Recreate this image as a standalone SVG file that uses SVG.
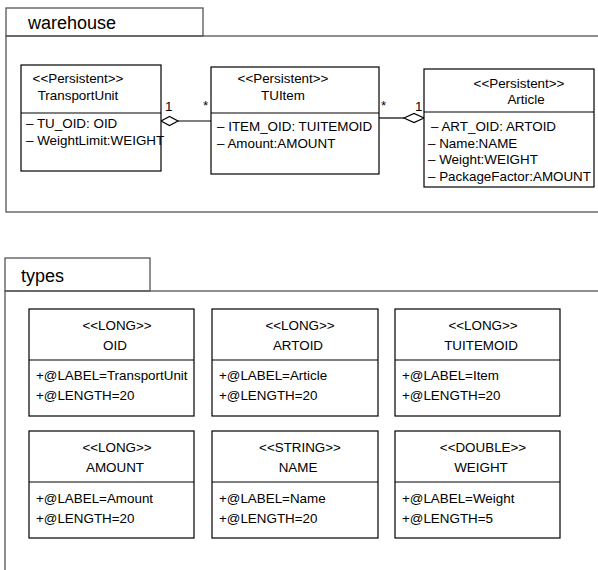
<svg xmlns="http://www.w3.org/2000/svg" width="598" height="570" viewBox="0 0 598 570">
  <style>
    text { font-family: "Liberation Sans", Arial, sans-serif; fill: #000; }
    .pkg { fill: none; stroke: #555; stroke-width: 1.3; }
    .pkgname { font-size: 18px; }
    .box { fill: #fff; stroke: #000; stroke-width: 1.2; }
    .sep { stroke: #000; stroke-width: 1.2; }
    .t { font-size: 13.4px; }
    .c { text-anchor: middle; }
    .conn { fill: none; stroke: #000; stroke-width: 1.2; }
    .agg { fill: #fff; stroke: #000; stroke-width: 1.2; }
  </style>

  <!-- package: warehouse -->
  <g id="pkg-warehouse">
    <rect class="pkg" x="6" y="8" width="197" height="28"/>
    <rect class="pkg" x="6" y="36" width="600" height="176"/>
    <text class="pkgname" x="28" y="29">warehouse</text>
  </g>

  <!-- package: types -->
  <g id="pkg-types">
    <rect class="pkg" x="5" y="258" width="145" height="33"/>
    <rect class="pkg" x="5" y="291" width="600" height="300"/>
    <text class="pkgname" x="21" y="282">types</text>
  </g>

  <!-- associations -->
  <g id="connectors">
    <line class="conn" x1="178" y1="121" x2="211" y2="121"/>
    <polygon class="agg" points="161,121 169.5,116.5 178,121 169.5,125.5"/>
    <text class="t" x="165" y="111">1</text>
    <text class="t" x="203" y="110">*</text>

    <line class="conn" x1="379" y1="118" x2="404" y2="118"/>
    <polygon class="agg" points="404,118 414,113.5 424,118 414,122.5"/>
    <text class="t" x="381" y="110">*</text>
    <text class="t" x="415" y="111">1</text>
  </g>

  <g id="TransportUnit">
    <rect class="box" x="21" y="65" width="140" height="106"/>
    <line class="sep" x1="21" y1="113" x2="161" y2="113"/>
    <text class="t c" x="78" y="83">&lt;&lt;Persistent&gt;&gt;</text>
    <text class="t c" x="78" y="100">TransportUnit</text>
    <text class="t" x="26" y="128">– TU_OID: OID</text>
    <text class="t" x="26" y="145">– WeightLimit:WEIGHT</text>
  </g>

  <g id="TUItem">
    <rect class="box" x="211" y="67" width="168" height="107"/>
    <line class="sep" x1="211" y1="113" x2="379" y2="113"/>
    <text class="t c" x="283" y="83">&lt;&lt;Persistent&gt;&gt;</text>
    <text class="t c" x="283" y="100">TUItem</text>
    <text class="t" x="217" y="131">– ITEM_OID: TUITEMOID</text>
    <text class="t" x="217" y="148">– Amount:AMOUNT</text>
  </g>

  <g id="Article">
    <rect class="box" x="424" y="69" width="170" height="118"/>
    <line class="sep" x1="424" y1="112" x2="594" y2="112"/>
    <text class="t c" x="519" y="88">&lt;&lt;Persistent&gt;&gt;</text>
    <text class="t c" x="526" y="104">Article</text>
    <text class="t" x="431" y="131">– ART_OID: ARTOID</text>
    <text class="t" x="428" y="148">– Name:NAME</text>
    <text class="t" x="428" y="164">– Weight:WEIGHT</text>
    <text class="t" x="428" y="181">– PackageFactor:AMOUNT</text>
  </g>

  <g id="OID">
    <rect class="box" x="29" y="309" width="165" height="107"/>
    <line class="sep" x1="29" y1="360" x2="194" y2="360"/>
    <text class="t c" x="117" y="330">&lt;&lt;LONG&gt;&gt;</text>
    <text class="t c" x="115" y="350">OID</text>
    <text class="t" x="36" y="380">+@LABEL=TransportUnit</text>
    <text class="t" x="36" y="400">+@LENGTH=20</text>
  </g>

  <g id="ARTOID">
    <rect class="box" x="212" y="309" width="166" height="107"/>
    <line class="sep" x1="212" y1="360" x2="378" y2="360"/>
    <text class="t c" x="300" y="330">&lt;&lt;LONG&gt;&gt;</text>
    <text class="t c" x="298" y="350">ARTOID</text>
    <text class="t" x="219" y="380">+@LABEL=Article</text>
    <text class="t" x="219" y="400">+@LENGTH=20</text>
  </g>

  <g id="TUITEMOID">
    <rect class="box" x="395" y="309" width="165" height="107"/>
    <line class="sep" x1="395" y1="360" x2="560" y2="360"/>
    <text class="t c" x="483" y="330">&lt;&lt;LONG&gt;&gt;</text>
    <text class="t c" x="481" y="350">TUITEMOID</text>
    <text class="t" x="402" y="380">+@LABEL=Item</text>
    <text class="t" x="402" y="400">+@LENGTH=20</text>
  </g>

  <g id="AMOUNT">
    <rect class="box" x="29" y="431" width="165" height="107"/>
    <line class="sep" x1="29" y1="482" x2="194" y2="482"/>
    <text class="t c" x="117" y="452">&lt;&lt;LONG&gt;&gt;</text>
    <text class="t c" x="115" y="472">AMOUNT</text>
    <text class="t" x="36" y="503">+@LABEL=Amount</text>
    <text class="t" x="36" y="523">+@LENGTH=20</text>
  </g>

  <g id="NAME">
    <rect class="box" x="212" y="431" width="166" height="107"/>
    <line class="sep" x1="212" y1="482" x2="378" y2="482"/>
    <text class="t c" x="300" y="452">&lt;&lt;STRING&gt;&gt;</text>
    <text class="t c" x="298" y="472">NAME</text>
    <text class="t" x="219" y="503">+@LABEL=Name</text>
    <text class="t" x="219" y="523">+@LENGTH=20</text>
  </g>

  <g id="WEIGHT">
    <rect class="box" x="395" y="431" width="165" height="107"/>
    <line class="sep" x1="395" y1="482" x2="560" y2="482"/>
    <text class="t c" x="483" y="452">&lt;&lt;DOUBLE&gt;&gt;</text>
    <text class="t c" x="481" y="472">WEIGHT</text>
    <text class="t" x="402" y="503">+@LABEL=Weight</text>
    <text class="t" x="402" y="523">+@LENGTH=5</text>
  </g>
</svg>
